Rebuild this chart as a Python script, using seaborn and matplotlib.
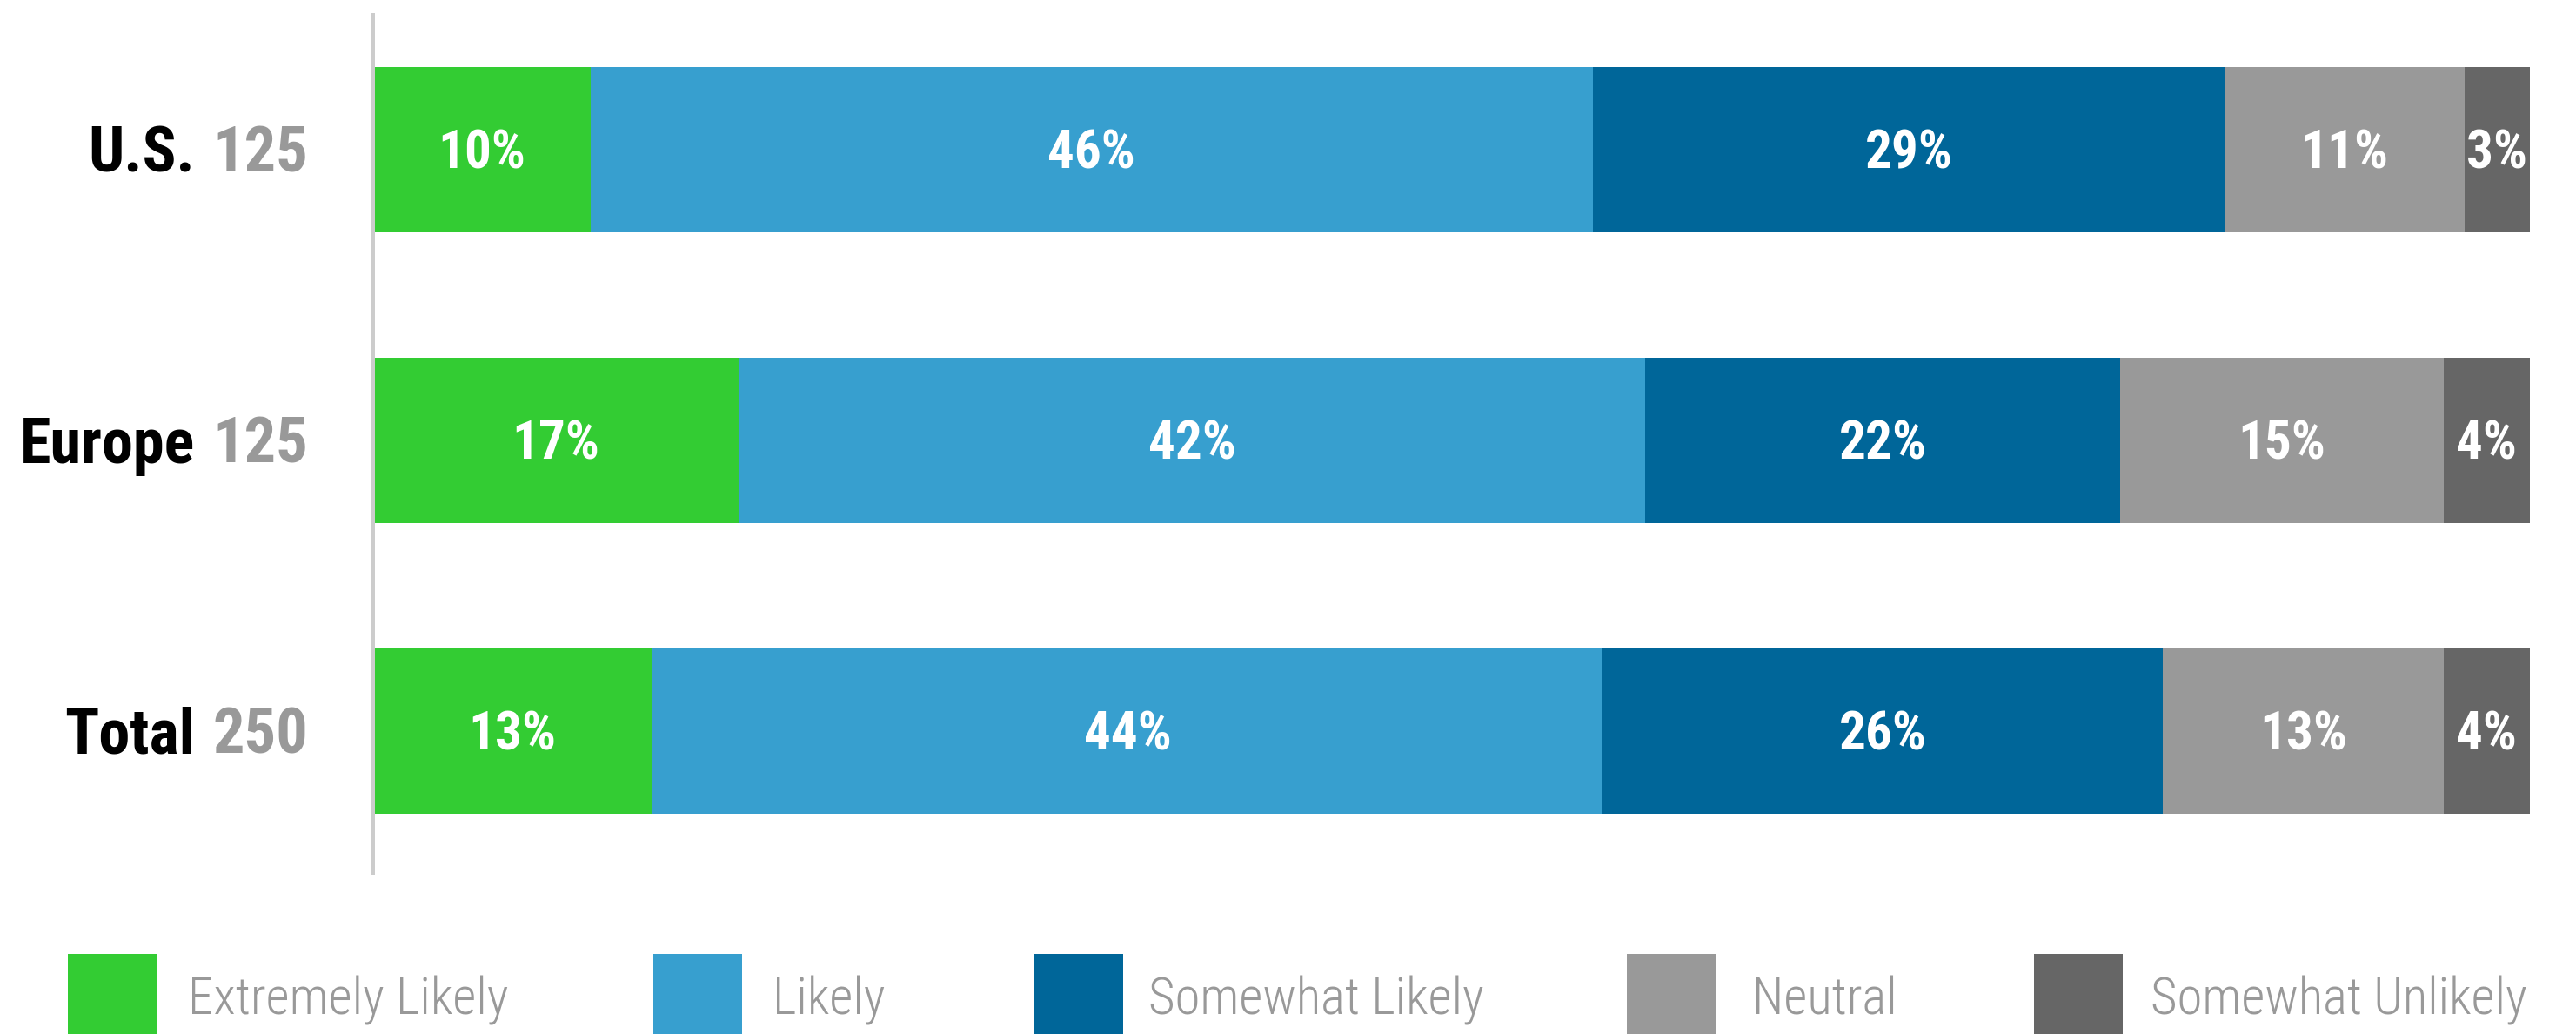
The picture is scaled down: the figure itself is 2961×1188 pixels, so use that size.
import matplotlib
matplotlib.use("Agg")
import matplotlib.pyplot as plt
from matplotlib import font_manager
from matplotlib.patches import Rectangle
import pandas as pd
import seaborn as sns

# ---- data -------------------------------------------------------------
regions = ["U.S.", "Europe", "Total"]
respondents = [125, 125, 250]
responses = ["Extremely Likely", "Likely", "Somewhat Likely", "Neutral", "Somewhat Unlikely"]
pct_us = [10, 46, 29, 11, 3]
pct_europe = [17, 42, 22, 15, 4]
pct_total = [13, 44, 26, 13, 4]

# ---- style --------------------------------------------------------------
colors = ["#33CC33", "#379FCF", "#006699", "#999999", "#666666"]
label_grey = "#999999"
axis_grey = "#CCCCCC"

sns.set_style("white")

installed = {f.name for f in font_manager.fontManager.ttflist}
narrow = next((n for n in ["Roboto Condensed", "Fira Sans Condensed", "Archivo Narrow",
                           "PT Sans Narrow"] if n in installed), "DejaVu Sans")
plt.rcParams["font.family"] = [narrow, "DejaVu Sans"]
CAP = 0.711  # cap height as a fraction of the em

# ---- table ------------------------------------------------------------
table = pd.DataFrame([pct_us, pct_europe, pct_total], index=regions, columns=responses)
# each row is shown as a 100 % stacked bar
share = table.div(table.sum(axis=1), axis=0) * 100
cum = share.cumsum(axis=1)

W, H, DPI = 2961, 1188, 100
fig = plt.figure(figsize=(W / DPI, H / DPI), dpi=DPI)
ax = fig.add_axes([428 / W, 1 - 1002 / H, (2908 - 428) / W, (1002 - 17) / H])

# cumulative bars, drawn from the outermost segment inwards
for resp, col in reversed(list(zip(responses, colors))):
    sns.barplot(x=cum[resp].values, y=regions, orient="h", color=col,
                width=0.57, saturation=1, ax=ax, linewidth=0)


def centred(text, xy, fs, transform=None, **kw):
    """Place text so that its cap height is centred on xy."""
    return ax.annotate(text, xy=xy, xycoords=transform or "data",
                       xytext=(0, -CAP * fs / 2), textcoords="offset points",
                       va="baseline", fontsize=fs, **kw)


# percentage labels centred in each segment
PCT_FS = 44
for i, reg in enumerate(regions):
    for resp in responses:
        mid = cum.loc[reg, resp] - share.loc[reg, resp] / 2
        centred(f"{table.loc[reg, resp]}%", (mid, i), PCT_FS, ha="center",
                color="white", fontweight="bold")

ax.set_xlim(0, 100)
ax.set_ylim(2.485, -0.464)
ax.set_xlabel("")
ax.set_ylabel("")
ax.set_xticks([])
ax.set_yticks([])
sns.despine(ax=ax, top=True, right=True, bottom=True, left=False)
ax.spines["left"].set_color(axis_grey)
ax.spines["left"].set_linewidth(3.6)

# region names and respondent counts to the left of the bars
ROW_FS = 52
ytrans = ax.get_yaxis_transform()
for i, (reg, n) in enumerate(zip(regions, respondents)):
    centred(reg, (-0.0823, i), ROW_FS, transform=ytrans, ha="right",
            color="black", fontweight="bold")
    centred(str(n), (-0.0298, i), ROW_FS, transform=ytrans, ha="right",
            color=label_grey, fontweight="bold")

# legend row along the bottom
patch_x = [78, 751, 1189, 1870, 2338]
text_x = [216, 888, 1320, 2014, 2472]
for x0, tx, resp, col in zip(patch_x, text_x, responses, colors):
    fig.add_artist(Rectangle((x0 / W, 0), 102 / W, (1188 - 1096) / H,
                             transform=fig.transFigure, facecolor=col,
                             edgecolor="none"))
    fig.text(tx / W, 1 - 1166 / H, resp, ha="left", va="baseline",
             fontsize=42.5, fontweight="light", color=label_grey)

fig.savefig("out.png", dpi=DPI)
